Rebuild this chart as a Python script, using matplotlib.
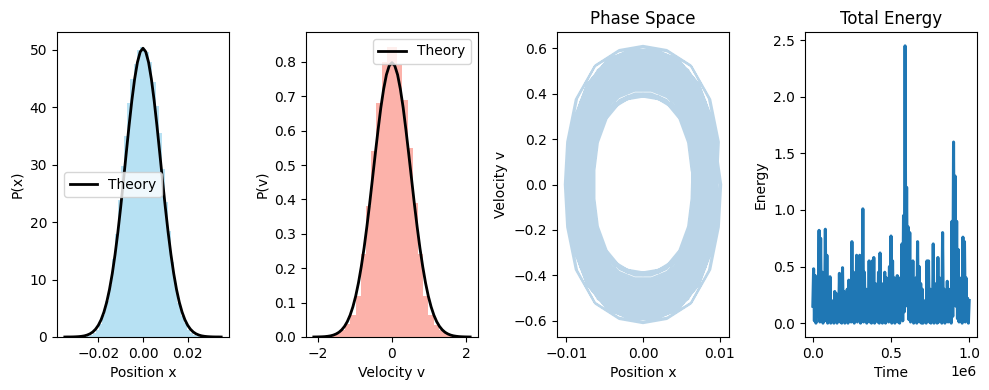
import matplotlib
matplotlib.use("Agg")
import matplotlib.pyplot as plt
import numpy as np

# ---------------------------------------------------------------------------
# Data
# ---------------------------------------------------------------------------

# position histogram (density), 50 bins on [-0.035, 0.035]
x_edges = np.linspace(-0.035, 0.035, 51)
x_hist = [
    0.01, 0.0, 0.01, 0.02, 0.02, 0.04, 0.08, 0.17, 0.36, 0.7,
    1.3, 2.2, 3.9, 6.3, 9.0, 13.6, 18.0, 23.9, 29.8, 35.0,
    40.8, 44.9, 47.5, 50.0, 50.6,
    50.2, 49.6, 47.9, 44.4, 40.2, 35.5, 29.2, 23.5, 18.4, 13.1,
    9.4, 6.0, 3.7, 2.4, 1.3, 0.65, 0.33, 0.15, 0.08, 0.03,
    0.02, 0.01, 0.01, 0.0, 0.01,
]
x_theory_grid = np.linspace(-0.035, 0.035, 57)
x_theory = [
    0.00, 0.01, 0.01, 0.02, 0.04, 0.07, 0.12, 0.20, 0.34, 0.55,
    0.87, 1.35, 2.04, 3.01, 4.33, 6.06, 8.29, 11.06, 14.39, 18.25,
    22.58, 27.24, 32.05, 36.78, 41.17, 44.94, 47.84, 49.67,
    50.30,
    49.67, 47.84, 44.94, 41.17, 36.78, 32.05, 27.24, 22.58, 18.25, 14.39,
    11.06, 8.29, 6.06, 4.33, 3.01, 2.04, 1.35, 0.87, 0.55, 0.34,
    0.20, 0.12, 0.07, 0.04, 0.02, 0.01, 0.01, 0.00,
]

# velocity histogram (density), 30 bins on [-2.1, 2.1]
v_edges = np.linspace(-2.1, 2.1, 31)
v_hist = [
    0.0003, 0.001, 0.002, 0.005, 0.01, 0.02, 0.037, 0.065, 0.12, 0.24,
    0.38, 0.54, 0.68, 0.80, 0.845,
    0.845, 0.79, 0.69, 0.55, 0.39, 0.24, 0.12, 0.063, 0.036, 0.02,
    0.011, 0.005, 0.002, 0.001, 0.0003,
]
v_theory_grid = np.linspace(-2.1, 2.1, 57)
v_theory = [
    0.0001, 0.0002, 0.0004, 0.0007, 0.0012, 0.0021, 0.0034, 0.0056, 0.0089, 0.0137,
    0.0209, 0.0309, 0.0448, 0.0635, 0.088, 0.119, 0.158, 0.205, 0.259, 0.321,
    0.388, 0.460, 0.532, 0.602, 0.667, 0.721, 0.763, 0.789,
    0.798,
    0.789, 0.763, 0.721, 0.667, 0.602, 0.532, 0.460, 0.388, 0.321, 0.259,
    0.205, 0.158, 0.119, 0.088, 0.0635, 0.0448, 0.0309, 0.0209, 0.0137, 0.0089,
    0.0056, 0.0034, 0.0021, 0.0012, 0.0007, 0.0004, 0.0002, 0.0001,
]

# phase space: two orbit outlines (normalised, vertices offset from each
# other) and the x / v size of each successive orbit
shape_a_x = [1.0, 0.97, 0.86, 0.62, 0.31, 0.0, -0.31, -0.62, -0.86, -0.97,
             -1.0, -0.97, -0.86, -0.62, -0.31, 0.0, 0.31, 0.62, 0.86, 0.97]
shape_a_v = [0.0, -0.31, -0.62, -0.86, -0.97, -1.0, -0.97, -0.86, -0.62, -0.31,
             0.0, 0.31, 0.62, 0.86, 0.97, 1.0, 0.97, 0.86, 0.62, 0.31]
shape_b_x = [0.99, 0.92, 0.74, 0.47, 0.16, -0.16, -0.47, -0.74, -0.92, -0.99,
             -0.99, -0.92, -0.74, -0.47, -0.16, 0.16, 0.47, 0.74, 0.92, 0.99]
shape_b_v = [-0.16, -0.47, -0.74, -0.92, -0.99, -0.99, -0.92, -0.74, -0.47, -0.16,
             0.16, 0.47, 0.74, 0.92, 0.99, 0.99, 0.92, 0.74, 0.47, 0.16]
loop_scale_x = [
    0.82, 0.85, 0.88, 0.91, 0.87, 0.80, 0.74, 0.70, 0.66, 0.65,
    0.69, 0.75, 0.81, 0.86, 0.93, 0.97, 1.00, 0.98, 0.94, 0.90,
    0.84, 0.78, 0.72, 0.68, 0.71, 0.77, 0.83, 0.89, 0.95, 0.99,
    1.02, 0.96, 0.92, 0.86, 0.79, 0.73, 0.67, 0.64, 0.68, 0.74,
    0.80, 0.87, 0.93, 0.97, 0.94, 0.88, 0.83, 0.78, 0.76, 0.79,
    0.84, 0.90, 0.95, 0.98, 0.91, 0.85, 0.80, 0.76, 0.73, 0.78,
]
loop_scale_v = [
    0.84, 0.83, 0.90, 0.89, 0.85, 0.82, 0.72, 0.71, 0.64, 0.67,
    0.70, 0.73, 0.83, 0.85, 0.95, 0.96, 1.01, 0.97, 0.92, 0.91,
    0.86, 0.77, 0.70, 0.69, 0.73, 0.76, 0.81, 0.90, 0.97, 0.98,
    1.00, 0.94, 0.93, 0.88, 0.80, 0.71, 0.66, 0.65, 0.70, 0.72,
    0.82, 0.86, 0.91, 0.99, 0.95, 0.86, 0.81, 0.79, 0.77, 0.81,
    0.85, 0.88, 0.93, 0.99, 0.90, 0.87, 0.78, 0.75, 0.74, 0.80,
]
x_amp = 0.0100
v_amp = 0.605

# total energy, sampled evenly over 0 .. 1e6
energy = [
    0.15, 0.48, 0.02, 0.42, 0.00, 0.30, 0.06, 0.25, 0.82, 0.01,
    0.75, 0.03, 0.45, 0.00, 0.30, 0.04, 0.83, 0.02, 0.60, 0.00,
    0.35, 0.03, 0.41, 0.00, 0.20, 0.08, 0.18, 0.00, 0.28, 0.02,
    0.26, 0.00, 0.12, 0.03, 0.44, 0.01, 0.40, 0.00, 0.49, 0.02,
    0.28, 0.00, 0.20, 0.03, 0.30, 0.00, 0.38, 0.09, 0.25, 0.01,
    0.72, 0.02, 0.45, 0.00, 0.35, 0.04, 0.60, 0.01, 0.42, 0.03,
    0.60, 0.00, 0.35, 0.02, 1.01, 0.01, 0.45, 0.04, 0.30, 0.00,
    0.25, 0.03, 0.55, 0.01, 0.30, 0.00, 0.55, 0.03, 0.58, 0.00,
    0.35, 0.04, 0.25, 0.01, 0.45, 0.00, 0.62, 0.03, 0.35, 0.00,
    0.30, 0.02, 0.45, 0.00, 0.40, 0.08, 0.35, 0.01, 0.50, 0.03,
    0.77, 0.00, 0.55, 0.02, 0.40, 0.00, 0.30, 0.03, 0.42, 0.01,
    0.40, 0.00, 0.20, 0.04, 0.70, 0.02, 0.95, 0.10, 2.45, 0.30,
    1.20, 0.15, 0.85, 0.03, 0.80, 0.01, 0.45, 0.04, 0.55, 0.00,
    0.20, 0.02, 0.40, 0.00, 0.72, 0.03, 0.50, 0.01, 0.35, 0.00,
    0.30, 0.00, 0.10, 0.02, 0.20, 0.00, 0.55, 0.03, 0.55, 0.01,
    0.30, 0.00, 0.28, 0.03, 0.70, 0.00, 0.30, 0.02, 0.35, 0.00,
    0.58, 0.01, 0.40, 0.04, 0.25, 0.00, 0.80, 0.02, 0.30, 0.00,
    0.22, 0.03, 0.37, 0.01, 0.30, 0.04, 0.20, 0.00, 0.90, 0.06,
    1.60, 0.20, 1.30, 0.15, 0.90, 0.04, 0.65, 0.01, 0.30, 0.03,
    0.40, 0.00, 0.76, 0.02, 0.72, 0.01, 0.40, 0.03, 0.22, 0.00,
    0.20,
]
energy_time = np.linspace(0, 1e6, len(energy))

# ---------------------------------------------------------------------------
# Figure
# ---------------------------------------------------------------------------
fig = plt.figure(figsize=(9.89, 3.90), dpi=100)
W, H = 989, 390
panel_left = [57, 306, 557, 805]
axes = [fig.add_axes([l / W, 1 - 337 / H, 172 / W, 305 / H]) for l in panel_left]
ax1, ax2, ax3, ax4 = axes

# position distribution
x_centers = (x_edges[:-1] + x_edges[1:]) / 2
ax1.hist(x_centers, bins=x_edges, weights=x_hist, color="skyblue", alpha=0.6)
ax1.plot(x_theory_grid, x_theory, color="black", lw=2, label="Theory")
ax1.set_xlabel("Position x")
ax1.set_ylabel("P(x)")
ax1.legend(loc="center left")

# velocity distribution
v_centers = (v_edges[:-1] + v_edges[1:]) / 2
ax2.hist(v_centers, bins=v_edges, weights=v_hist, color="salmon", alpha=0.6)
ax2.plot(v_theory_grid, v_theory, color="black", lw=2, label="Theory")
ax2.set_xlabel("Velocity v")
ax2.set_ylabel("P(v)")
ax2.legend(loc="upper right")

# phase space: successive orbits alternate between the two outlines
shapes = [(np.array(shape_a_x), np.array(shape_a_v)),
          (np.array(shape_b_x), np.array(shape_b_v))]
traj_x, traj_v = [], []
for i, (sx, sv) in enumerate(zip(loop_scale_x, loop_scale_v)):
    ox, ov = shapes[i % 2]
    traj_x.append(ox * sx * x_amp)
    traj_v.append(ov * sv * v_amp)
ax3.plot(np.concatenate(traj_x), np.concatenate(traj_v), color="#1f77b4", alpha=0.3)
ax3.set_xlabel("Position x")
ax3.set_ylabel("Velocity v")
ax3.set_title("Phase Space")

# total energy
ax4.plot(energy_time, energy, color="#1f77b4", lw=2.2)
ax4.set_xlabel("Time")
ax4.set_ylabel("Energy")
ax4.set_title("Total Energy")

fig.savefig("out.png", dpi=100)
